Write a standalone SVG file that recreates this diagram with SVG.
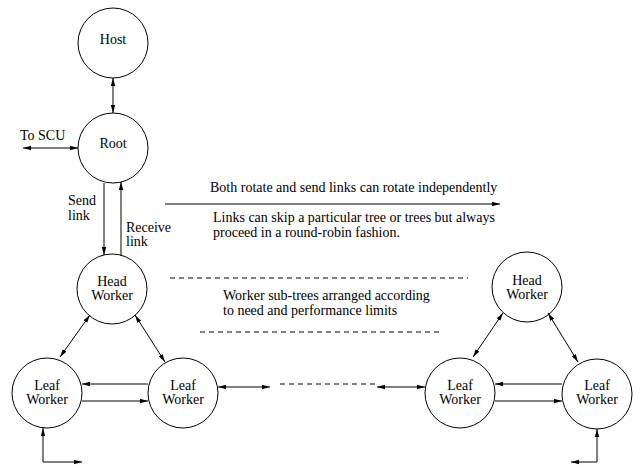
<svg xmlns="http://www.w3.org/2000/svg" width="633" height="465" viewBox="0 0 633 465">
<style>
text{font-family:"Liberation Serif","Times New Roman",serif;font-size:14px;fill:#000}
.c{text-anchor:middle}
.n{fill:none;stroke:#000;stroke-width:1}
.l{fill:none;stroke:#000;stroke-width:1}
.a{marker-end:url(#ah)}
.b{marker-start:url(#ah);marker-end:url(#ah)}
.d{fill:none;stroke:#000;stroke-width:1;stroke-dasharray:5 4}
</style>
<defs>
<marker id="ah" markerUnits="userSpaceOnUse" markerWidth="9" markerHeight="6" refX="8" refY="3" orient="auto-start-reverse" viewBox="0 0 9 6">
<path d="M0,0.8 L8,3 L0,5.2 Z" fill="#000"/>
</marker>
</defs>
<rect width="633" height="465" fill="#fff"/>
<g id="host"><circle class="n" cx="113" cy="43" r="35"/><text class="c" x="113" y="44">Host</text></g>
<g id="root"><circle class="n" cx="113" cy="148" r="35"/><text class="c" x="113" y="148">Root</text></g>
<g id="head1"><circle class="n" cx="112" cy="289" r="35"/><text class="c" x="112" y="286">Head</text><text class="c" x="112" y="300">Worker</text></g>
<g id="leaf1"><circle class="n" cx="47" cy="393" r="35"/><text class="c" x="47" y="390">Leaf</text><text class="c" x="47" y="404">Worker</text></g>
<g id="leaf2"><circle class="n" cx="183" cy="393" r="35"/><text class="c" x="183" y="390">Leaf</text><text class="c" x="183" y="404">Worker</text></g>
<g id="head2"><circle class="n" cx="527" cy="287" r="35"/><text class="c" x="527" y="285">Head</text><text class="c" x="527" y="299">Worker</text></g>
<g id="leaf3"><circle class="n" cx="460" cy="393" r="35"/><text class="c" x="460" y="390">Leaf</text><text class="c" x="460" y="404">Worker</text></g>
<g id="leaf4"><circle class="n" cx="597" cy="394" r="35"/><text class="c" x="597" y="390">Leaf</text><text class="c" x="597" y="404">Worker</text></g>
<g id="connectors">
<line class="l b" x1="113" y1="78" x2="113" y2="113"/>
<line class="l b" x1="23" y1="148" x2="78" y2="148"/>
<line class="l a" x1="104" y1="183" x2="104" y2="255"/>
<line class="l a" x1="121" y1="256" x2="121" y2="182"/>
<line class="l b" x1="90" y1="315" x2="60" y2="357"/>
<line class="l b" x1="135" y1="315" x2="165" y2="362"/>
<line class="l a" x1="148" y1="384" x2="82" y2="384"/>
<line class="l a" x1="82" y1="401" x2="148" y2="401"/>
<line class="l b" x1="218" y1="387" x2="270" y2="387"/>
<line class="d" x1="280" y1="384" x2="375" y2="384"/>
<line class="l b" x1="377" y1="387" x2="425" y2="387"/>
<line class="l b" x1="503" y1="313" x2="473" y2="357"/>
<line class="l b" x1="548" y1="313" x2="578" y2="362"/>
<line class="l a" x1="562" y1="384" x2="495" y2="384"/>
<line class="l a" x1="495" y1="401" x2="562" y2="401"/>
<path class="l b" d="M82,462 H43 V428"/>
<path class="l b" d="M571,462 H597 V429"/>
<line class="l a" x1="165" y1="204" x2="500" y2="204"/>
<line class="d" x1="170" y1="278" x2="468" y2="278"/>
<line class="d" x1="200" y1="332" x2="443" y2="332"/>
</g>
<g id="labels">
<text x="20" y="140">To SCU</text>
<text x="68" y="205">Send</text>
<text x="68" y="220">link</text>
<text x="126" y="232">Receive</text>
<text x="126" y="246">link</text>
<text x="210" y="192">Both rotate and send links can rotate independently</text>
<text x="213" y="222">Links can skip a particular tree or trees but always</text>
<text x="213" y="237">proceed in a round-robin fashion.</text>
<text x="223" y="300">Worker sub-trees arranged according</text>
<text x="223" y="315">to need and performance limits</text>
</g>
</svg>
